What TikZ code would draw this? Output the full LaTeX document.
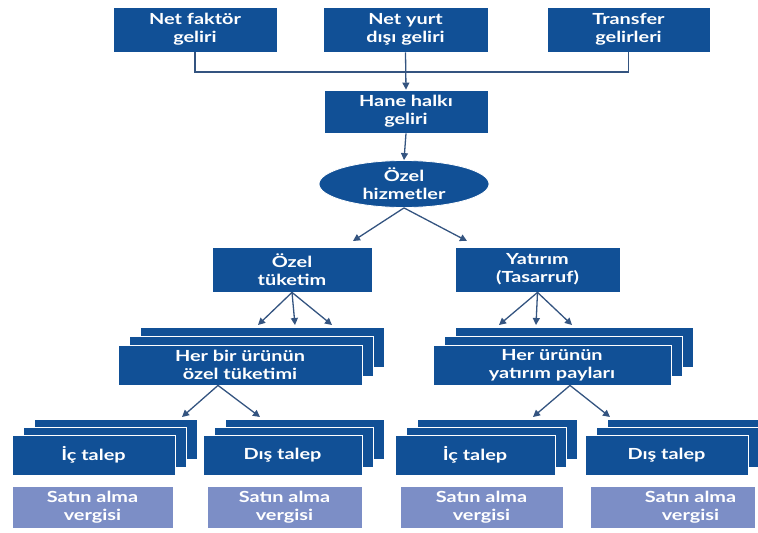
\documentclass[tikz,border=0pt]{standalone}
\usepackage{fontspec}
\setmainfont{Lato}[FakeStretch=1.3]
\usetikzlibrary{shapes.geometric,arrows.meta,calc}
\definecolor{dblue}{RGB}{17,80,150}
\definecolor{lblue}{RGB}{124,142,198}
\definecolor{lcol}{RGB}{52,84,128}
\begin{document}
\begin{tikzpicture}[x=1pt,y=-1pt,
  dbox/.style={fill=dblue, draw=white, line width=0.8pt, text=white, align=center,
    inner sep=0pt, font=\bfseries\fontsize{15.3}{18}\selectfont},
  lbox/.style={dbox, fill=lblue},
  conn/.style={draw=lcol, line width=1.3pt},
  arr/.style={conn, -{Triangle[length=7pt,width=7pt]}},
  wide/.style={minimum width=#1},
  tall/.style={minimum height=#1}]
\useasboundingbox (0,0) rectangle (758,533);
% top row
\node[dbox, wide=164pt, tall=45pt] (A) at (195,29.5) {Net faktör\\geliri};
\node[dbox, wide=165pt, tall=45pt] (B) at (405.5,29.5) {Net yurt\\dışı geliri};
\node[dbox, wide=163pt, tall=45pt] (C) at (628.5,29.5) {Transfer\\gelirleri};
\node[dbox, wide=164pt, tall=43pt] (H) at (406,111.5) {Hane halkı\\geliri};
\coordinate (J) at (406,72);
\draw[conn] (A.south) |- (J) -| (C.south);
\draw[arr] (B.south) -- (H.north);
\node[dbox, ellipse, wide=170pt, tall=47pt] (E) at (404,184) {Özel\\hizmetler};
\draw[arr] (H.south) -- (E.north);
\node[dbox, wide=160pt, tall=45pt] (OT) at (292,269.5) {Özel\\tüketim};
\node[dbox, wide=165pt, tall=45pt] (YT) at (537.5,269.5) {Yatırım\\(Tasarruf)};
\coordinate (e1) at (353,241);
\coordinate (e2) at (467,241);
\draw[arr] (E.south) -- (e1);
\draw[arr] (E.south) -- (e2);
% stacked product boxes
\node[dbox, wide=244pt, tall=40pt] (P1c) at (262,347) {};
\node[dbox, wide=244pt, tall=40pt] (P1b) at (251,356) {};
\node[dbox, wide=244pt, tall=40pt] (P1) at (240,365) {Her bir ürünün\\özel tüketimi};
\node[dbox, wide=238pt, tall=40pt] (P2c) at (574,347) {};
\node[dbox, wide=238pt, tall=40pt] (P2b) at (563,356) {};
\node[dbox, wide=238pt, tall=40pt] (P2) at (552,365) {Her ürünün\\yatırım payları};
\coordinate (a1) at (258,325);
\coordinate (a2) at (295,325);
\coordinate (a3) at (332,325);
\coordinate (b1) at (499,325);
\coordinate (b2) at (536,325);
\coordinate (b3) at (572,325);
\foreach \t in {a1,a2,a3} \draw[arr] (OT.south) -- (\t);
\foreach \t in {b1,b2,b3} \draw[arr] (YT.south) -- (\t);
% bottom stacks
\foreach \n/\x/\w/\txt in {Q1/93.5/163/İç talep, Q2/282.5/159/Dış talep, Q3/475/160/İç talep, Q4/666.5/163/Dış talep}{
  \node[dbox, wide=\w pt, tall=40pt] (\n c) at (\x+22,439) {};
  \node[dbox, wide=\w pt, tall=40pt] (\n b) at (\x+11,447) {};
  \node[dbox, wide=\w pt, tall=40pt] (\n) at (\x,455) {\txt};
}
\coordinate (p1s) at (P1.south -| 218,0);
\coordinate (p2s) at (P2.south -| 570,0);
\coordinate (c1) at (182,417);
\coordinate (c2) at (260,417);
\coordinate (d1) at (533,417);
\coordinate (d2) at (610,417);
\draw[arr] (p1s) -- (c1);
\draw[arr] (p1s) -- (c2);
\draw[arr] (p2s) -- (d1);
\draw[arr] (p2s) -- (d2);
% tax boxes
\node[lbox, wide=161pt, tall=42pt] (S1) at (92.5,507) {Satın alma\\vergisi};
\node[lbox, wide=155pt, tall=42pt] (S2) at (284.5,507) {Satın alma\\vergisi};
\node[lbox, wide=163pt, tall=42pt] (S3) at (481.5,507) {Satın alma\\vergisi};
\node[lbox, wide=165pt, tall=42pt] (S4) at (672.5,507) {\hspace*{36pt}Satın alma\\\hspace*{36pt}vergisi};
\end{tikzpicture}
\end{document}
